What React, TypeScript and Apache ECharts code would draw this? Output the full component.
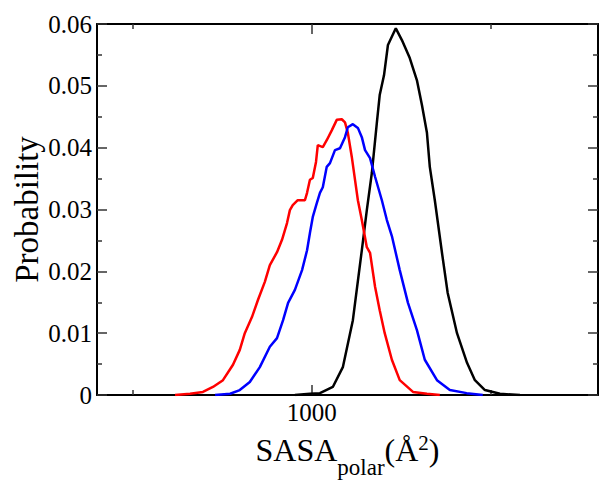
import React, { useEffect, useRef } from "react";
import * as echarts from "echarts";

// SASA_polar (Å^2) vs probability
const redX = [618, 660, 696, 724, 752, 780, 799, 813, 833, 850, 869, 883, 903, 917, 931, 939, 947, 961, 981, 987, 995, 1003, 1012, 1017, 1031, 1042, 1056, 1070, 1084, 1093, 1101, 1112, 1121, 1129, 1140, 1154, 1163, 1177, 1190, 1204, 1224, 1246, 1283, 1322, 1358];
const redY = [0, 0.0002, 0.0005, 0.0013, 0.0024, 0.0049, 0.0073, 0.0100, 0.0126, 0.0154, 0.0183, 0.0210, 0.0231, 0.0251, 0.0278, 0.0299, 0.0307, 0.0315, 0.0315, 0.0327, 0.0348, 0.0351, 0.0377, 0.0404, 0.0401, 0.0412, 0.0428, 0.0445, 0.0446, 0.0441, 0.0424, 0.0385, 0.0348, 0.0315, 0.0283, 0.0239, 0.0230, 0.0175, 0.0137, 0.0100, 0.0057, 0.0024, 0.0005, 0.0002, 0];

const blueX = [730, 772, 799, 827, 855, 883, 903, 920, 934, 953, 973, 987, 995, 1003, 1014, 1023, 1031, 1042, 1051, 1065, 1079, 1093, 1101, 1115, 1129, 1140, 1149, 1163, 1177, 1196, 1210, 1224, 1246, 1269, 1294, 1316, 1350, 1386, 1433, 1478];
const blueY = [0, 0.0002, 0.0008, 0.0021, 0.0045, 0.0078, 0.0092, 0.0121, 0.0149, 0.0170, 0.0202, 0.0234, 0.0262, 0.0288, 0.0310, 0.0327, 0.0336, 0.0369, 0.0375, 0.0396, 0.0399, 0.0417, 0.0433, 0.0438, 0.0432, 0.0417, 0.0396, 0.0383, 0.0353, 0.0315, 0.0283, 0.0257, 0.0202, 0.0149, 0.0105, 0.0057, 0.0024, 0.0008, 0.0003, 0];

const blackX = [953, 995, 1023, 1059, 1087, 1115, 1140, 1154, 1168, 1182, 1190, 1202, 1213, 1235, 1252, 1274, 1294, 1308, 1322, 1330, 1344, 1364, 1380, 1406, 1434, 1456, 1484, 1526, 1582];
const blackY = [0, 0.0002, 0.0003, 0.0013, 0.0045, 0.0121, 0.0234, 0.0299, 0.0359, 0.0440, 0.0485, 0.0517, 0.0566, 0.0593, 0.0574, 0.0545, 0.0509, 0.0469, 0.0424, 0.0369, 0.0315, 0.0230, 0.0165, 0.0100, 0.0052, 0.0024, 0.0008, 0.0002, 0];

const xMajorTicks = [1000];
const xMinorTicks = [500, 1500];
const xLabels = [1000];

const FONT = "Liberation Serif, Times New Roman, serif";

const zip = (xs: number[], ys: number[]) => xs.map((x, i) => [x, ys[i]]);

export default function App() {
  const ref = useRef<HTMLDivElement>(null);
  useEffect(() => {
    if (!ref.current) return;
    const chart = echarts.init(ref.current, null, { renderer: "svg" });
    const axLine = { show: true, lineStyle: { color: "#000", width: 2 } };
    const tickStyle = { color: "#333", width: 1.5 };
    const baseX = { type: "value", min: 400, max: 1800, splitLine: { show: false } };
    chart.setOption({
      animation: false,
      backgroundColor: "#fff",
      grid: { left: 97, right: 2, top: 24, bottom: 85, containLabel: false, outerBoundsMode: "none" },
      xAxis: [
        {
          ...baseX,
          position: "bottom",
          axisLine: axLine,
          axisTick: { show: true, inside: true, length: 10, customValues: xMajorTicks, lineStyle: tickStyle },
          axisLabel: {
            show: true,
            customValues: xLabels,
            fontFamily: FONT,
            fontSize: 25,
            color: "#000",
            margin: 5,
            formatter: (v: number) => String(v),
          },
          name: "{m|SASA}{sub|polar}{m|(Å}{sup|2}{m|)}",
          nameLocation: "middle",
          nameGap: 31,
          nameMoveOverlap: false,
          nameTextStyle: {
            fontFamily: FONT,
            color: "#000",
            rich: {
              m: { fontFamily: FONT, fontSize: 32, lineHeight: 48, verticalAlign: "middle", color: "#000" },
              sub: { fontFamily: FONT, fontSize: 23, lineHeight: 18, verticalAlign: "top", padding: [30, 0, 0, 0], color: "#000" },
              sup: { fontFamily: FONT, fontSize: 21, lineHeight: 21, verticalAlign: "top", padding: [6, 0, 0, 0], color: "#000" },
            },
          },
        },
        {
          ...baseX,
          position: "bottom",
          axisLine: { show: false },
          axisTick: { show: true, inside: true, length: 5, customValues: xMinorTicks, lineStyle: tickStyle },
          axisLabel: { show: false },
        },
        {
          ...baseX,
          position: "top",
          axisLine: axLine,
          axisTick: { show: true, inside: true, length: 10, customValues: xMajorTicks, lineStyle: tickStyle },
          axisLabel: { show: false },
        },
        {
          ...baseX,
          position: "top",
          axisLine: { show: false },
          axisTick: { show: true, inside: true, length: 5, customValues: xMinorTicks, lineStyle: tickStyle },
          axisLabel: { show: false },
        },
      ],
      yAxis: [
        {
          type: "value",
          min: 0,
          max: 0.06,
          interval: 0.01,
          position: "left",
          splitLine: { show: false },
          axisLine: axLine,
          axisTick: { show: true, inside: true, length: 10, lineStyle: tickStyle },
          minorTick: { show: true, splitNumber: 2, length: 5, lineStyle: tickStyle },
          axisLabel: {
            fontFamily: FONT,
            fontSize: 25,
            color: "#000",
            margin: 5,
            formatter: (v: number) => (v === 0 ? "0" : v.toFixed(2)),
          },
          name: "Probability",
          nameLocation: "middle",
          nameRotate: 90,
          nameGap: 54,
          nameMoveOverlap: false,
          nameTextStyle: { fontFamily: FONT, fontSize: 33, color: "#000" },
        },
        {
          type: "value",
          min: 0,
          max: 0.06,
          interval: 0.01,
          position: "right",
          splitLine: { show: false },
          axisLine: axLine,
          axisTick: { show: true, inside: true, length: 10, lineStyle: tickStyle },
          minorTick: { show: true, splitNumber: 2, length: 5, lineStyle: tickStyle },
          axisLabel: { show: false },
        },
      ],
      series: [
        {
          type: "line",
          name: "black",
          data: zip(blackX, blackY),
          showSymbol: false,
          lineStyle: { color: "#000", width: 2.5 },
          itemStyle: { color: "#000" },
          xAxisIndex: 0,
          yAxisIndex: 0,
        },
        {
          type: "line",
          name: "red",
          data: zip(redX, redY),
          showSymbol: false,
          lineStyle: { color: "#ff0000", width: 2.5 },
          itemStyle: { color: "#ff0000" },
          xAxisIndex: 0,
          yAxisIndex: 0,
        },
        {
          type: "line",
          name: "blue",
          data: zip(blueX, blueY),
          showSymbol: false,
          lineStyle: { color: "#0000ff", width: 2.5 },
          itemStyle: { color: "#0000ff" },
          xAxisIndex: 0,
          yAxisIndex: 0,
        },
      ],
    });
    return () => chart.dispose();
  }, []);
  return <div ref={ref} style={{ position: "absolute", left: 0, top: 0, width: 600, height: 480 }} />;
}
